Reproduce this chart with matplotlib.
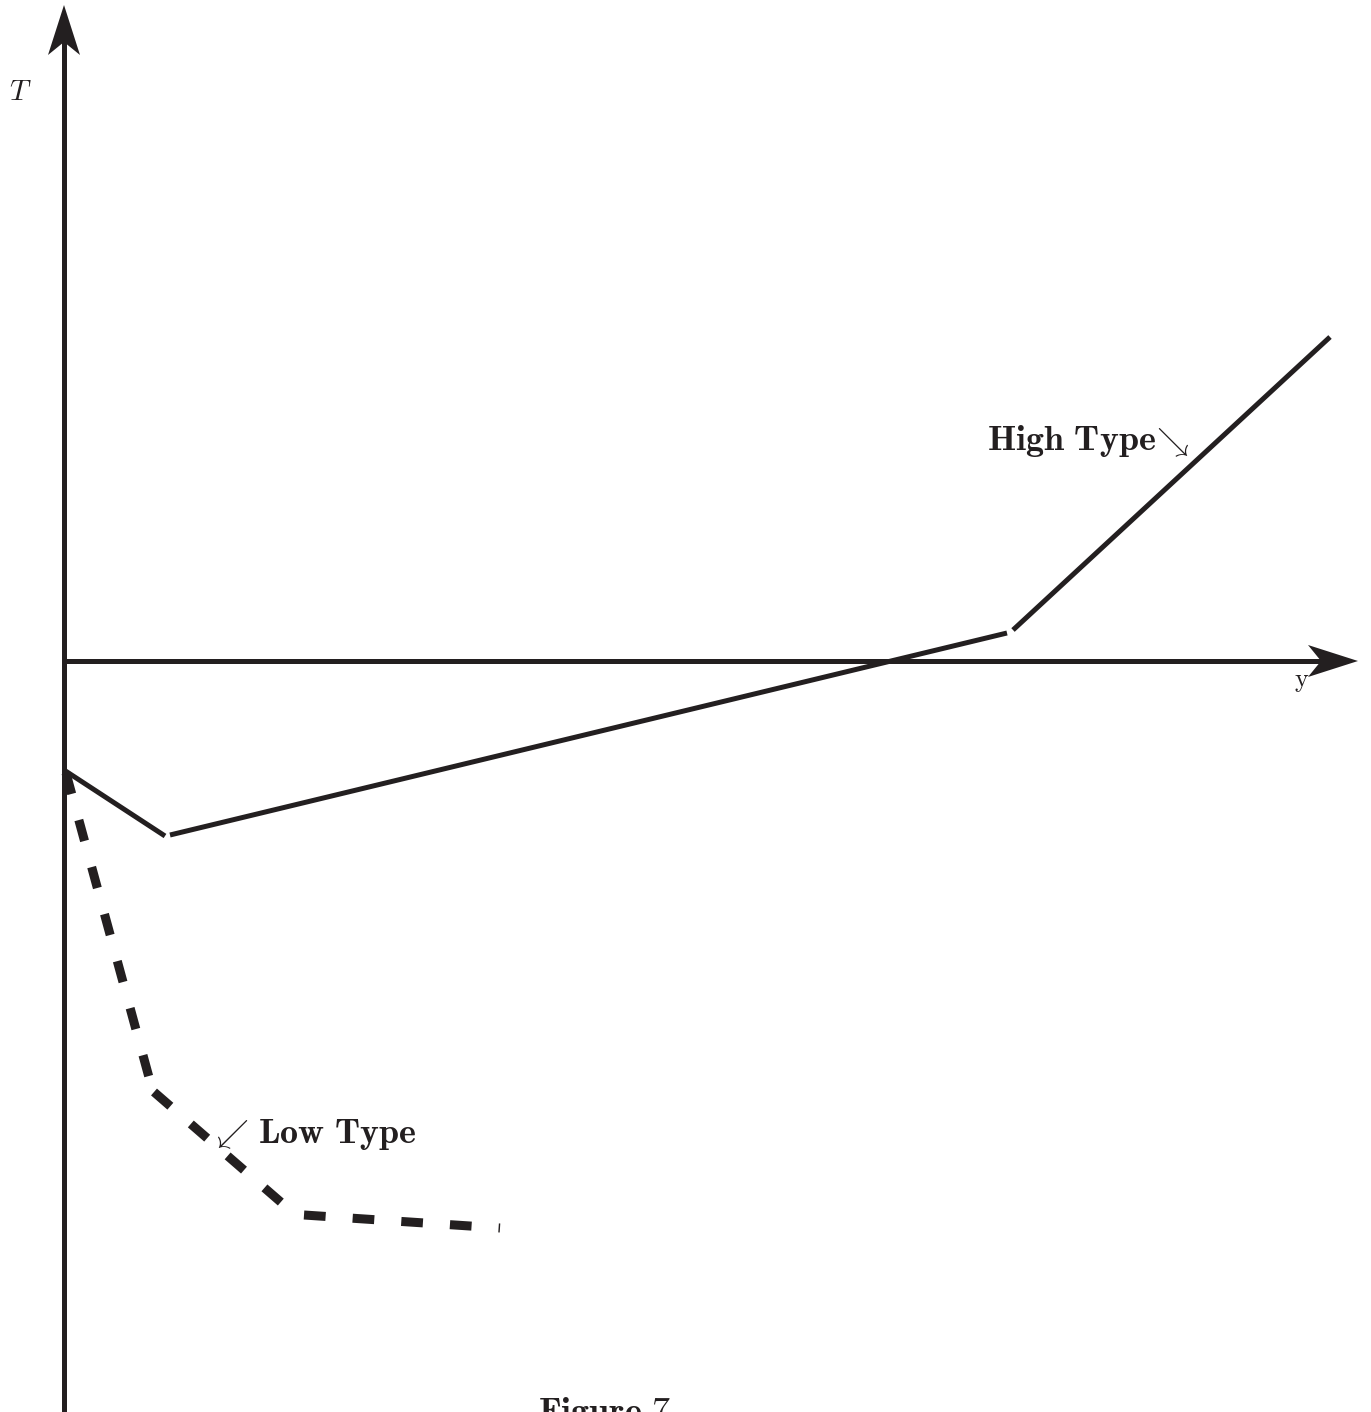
import numpy as np
import matplotlib.pyplot as plt
from matplotlib.patches import Polygon

plt.rcParams['mathtext.fontset'] = 'cm'
plt.rcParams['font.family'] = 'serif'

# Data (units: origin where the axes cross)
# High type: three solid pieces with small breaks at the kinks
high_x = [[0.00, 1.01], [1.06, 9.43], [9.49, 12.66]]
high_y = [[-1.09, -1.75], [-1.74, 0.28], [0.31, 3.24]]

# Low type: three dashed pieces
low_x = [[0.02, 0.89], [0.90, 2.34], [2.40, 4.36]]
low_y = [[-1.12, -4.31], [-4.31, -5.56], [-5.54, -5.67]]

fig = plt.figure(figsize=(13.71, 14.12), dpi=100)
ax = fig.add_axes([0, 0, 1, 1])
ax.set_xlim(-0.64, 13.07)
ax.set_ylim(-7.51, 6.61)
ax.axis('off')

col = '#231f20'


def stealth(ax, tip, direction, length=0.5, half=0.16, notch=0.13):
    d = np.array(direction, float)
    d /= np.linalg.norm(d)
    n = np.array([-d[1], d[0]])
    tip = np.array(tip, float)
    back = tip - d * length
    pts = [tip, back + n * half, tip - d * (length - notch), back - n * half]
    ax.add_patch(Polygon(pts, closed=True, color=col, lw=0, zorder=5))


# axes
ax.plot([0, 0], [-7.6, 6.2], color=col, lw=3.6, solid_capstyle='butt')
ax.plot([0, 12.6], [0, 0], color=col, lw=3.6, solid_capstyle='butt')
stealth(ax, (0, 6.56), (0, 1))
stealth(ax, (12.94, 0), (1, 0))

ax.text(-0.44, 5.69, '$T$', fontsize=21, ha='center', va='center', color=col)
ax.text(12.38, -0.21, r'$\mathrm{y}$', fontsize=19, ha='center', va='center', color=col)

for xs, ys in zip(high_x, high_y):
    ax.plot(xs, ys, color=col, lw=3.6, solid_capstyle='butt')

for xs, ys in zip(low_x, low_y):
    ax.plot(xs, ys, color=col, lw=6.5, linestyle=(0, (2.4, 3.0)),
            dash_capstyle='butt')

# labels
ax.text(9.23, 2.20, r'$\mathbf{High\ Type}$', fontsize=26,
        ha='left', va='center', color=col)
ax.text(11.06, 2.18, r'$\searrow$', fontsize=23,
        ha='center', va='center', color=col)
ax.text(1.655, -4.74, r'$\swarrow$', fontsize=23,
        ha='center', va='center', color=col)
ax.text(1.94, -4.74, r'$\mathbf{Low\ Type}$', fontsize=26,
        ha='left', va='center', color=col)
ax.text(5.41, -7.34, r'$\mathbf{Figure\ 7}$', fontsize=26,
        ha='center', va='top', color=col)

fig.savefig('out.png', dpi=100)
